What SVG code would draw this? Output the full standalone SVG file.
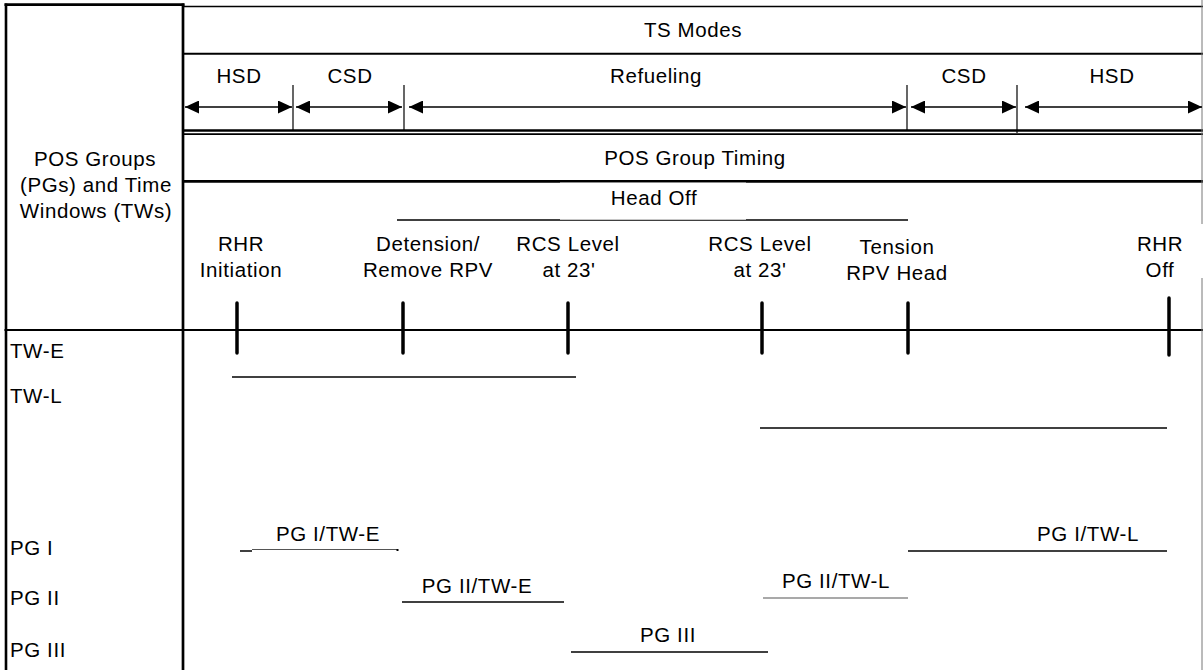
<svg xmlns="http://www.w3.org/2000/svg" width="1203" height="670" viewBox="0 0 1203 670">
<style>
text{font-family:"Liberation Sans",Arial,sans-serif;font-size:20.5px;letter-spacing:0.6px;fill:#000}
.c{text-anchor:middle}
.l{text-anchor:start}
.ln{stroke:#000;fill:none}
.g{stroke:#555;fill:none;stroke-width:1.2}
.tick{stroke:#000;stroke-width:3.5;stroke-linecap:round}
.arr{stroke:#000;stroke-width:1.7;marker-start:url(#ah);marker-end:url(#ah)}
</style>
<defs>
<marker id="ah" markerUnits="userSpaceOnUse" markerWidth="14" markerHeight="13" refX="14" refY="6.5" orient="auto-start-reverse">
<path d="M0,0 L14,6.5 L0,13 z" fill="#000"/>
</marker>
</defs>
<rect width="1203" height="670" fill="#fff"/>
<g id="frame">
<line class="ln" x1="4.5" y1="4.7" x2="184.5" y2="4.7" stroke-width="2.7"/>
<line class="ln" x1="6" y1="3.5" x2="6" y2="670" stroke-width="2.6"/>
<line class="ln" x1="183" y1="3.5" x2="183" y2="670" stroke-width="2.7"/>
<line class="ln" x1="183" y1="6.5" x2="1203" y2="6.5" stroke-width="1.6"/>
<line class="ln" x1="183" y1="53.7" x2="1203" y2="53.7" stroke-width="2"/>
<line class="ln" x1="183" y1="130.5" x2="1203" y2="130.5" stroke-width="2.3"/>
<line class="ln" x1="183" y1="134.2" x2="1203" y2="134.2" stroke-width="1.7"/>
<line class="ln" x1="183" y1="181.3" x2="1203" y2="181.3" stroke-width="2.7"/>
<line class="ln" x1="4.5" y1="330" x2="1203" y2="330" stroke-width="2"/>
<line x1="1202" y1="0" x2="1202" y2="224" stroke="#777" stroke-width="1"/>
<line x1="1202" y1="278" x2="1202" y2="670" stroke="#777" stroke-width="1"/>
</g>
<g id="left-header">
<text class="c" x="95" y="165.5">POS Groups</text>
<text class="c" x="96" y="191.5">(PGs) and Time</text>
<text class="c" x="96" y="217.5">Windows (TWs)</text>
</g>
<g id="ts-modes">
<text class="c" x="693" y="37">TS Modes</text>
</g>
<g id="modes">
<text class="c" x="239" y="83">HSD</text>
<text class="c" x="350" y="83">CSD</text>
<text class="c" x="656" y="83">Refueling</text>
<text class="c" x="964" y="83">CSD</text>
<text class="c" x="1112" y="83">HSD</text>
<line class="ln" x1="293" y1="85" x2="293" y2="131" stroke-width="1.2"/>
<line class="ln" x1="404" y1="85" x2="404" y2="131" stroke-width="1.2"/>
<line class="ln" x1="907" y1="85" x2="907" y2="131" stroke-width="1.2"/>
<line class="ln" x1="1017" y1="85" x2="1017" y2="133" stroke-width="1.2"/>
</g>
<g id="connectors">
<line class="arr" x1="185" y1="107" x2="292" y2="107"/>
<line class="arr" x1="296" y1="107" x2="402" y2="107"/>
<line class="arr" x1="409" y1="107" x2="906" y2="107"/>
<line class="arr" x1="911" y1="107" x2="1016" y2="107"/>
<line class="arr" x1="1025" y1="107" x2="1202" y2="107"/>
</g>
<g id="pos-group-timing">
<text class="c" x="695" y="165">POS Group Timing</text>
</g>
<g id="head-off">
<line class="ln" x1="397" y1="220" x2="908" y2="220" stroke-width="1.5"/>
<rect x="560" y="182.6" width="186" height="37.1" fill="#fff"/>
<text class="c" x="654" y="205">Head Off</text>
</g>
<g id="milestones">
<text class="c" x="241" y="251">RHR</text>
<text class="c" x="241" y="277">Initiation</text>
<text class="c" x="428" y="251">Detension/</text>
<text class="c" x="428" y="277">Remove RPV</text>
<text class="c" x="568" y="251">RCS Level</text>
<text class="c" x="569" y="277">at 23'</text>
<text class="c" x="760" y="251">RCS Level</text>
<text class="c" x="760" y="277">at 23'</text>
<text class="c" x="897" y="254">Tension</text>
<text class="c" x="897" y="280">RPV Head</text>
<text class="c" x="1160" y="251">RHR</text>
<text class="c" x="1160" y="277">Off</text>
<line class="tick" x1="237" y1="303" x2="237" y2="353"/>
<line class="tick" x1="403" y1="303" x2="403" y2="353"/>
<line class="tick" x1="568" y1="303" x2="568" y2="353"/>
<line class="tick" x1="762" y1="303" x2="762" y2="353"/>
<line class="tick" x1="908" y1="303" x2="908" y2="353"/>
<line class="tick" x1="1169" y1="298" x2="1169" y2="355"/>
</g>
<g id="row-labels">
<text class="l" x="10" y="358">TW-E</text>
<text class="l" x="10" y="403">TW-L</text>
<text class="l" x="10" y="555">PG I</text>
<text class="l" x="10" y="605">PG II</text>
<text class="l" x="10" y="657">PG III</text>
</g>
<g id="tw-e">
<line class="ln" x1="232" y1="377" x2="576" y2="377" stroke-width="1.6"/>
</g>
<g id="tw-l">
<line class="ln" x1="760" y1="428" x2="1167" y2="428" stroke-width="1.6"/>
</g>
<g id="pg1-twe">
<text class="c" x="328" y="541">PG I/TW-E</text>
<line class="ln" x1="240" y1="551" x2="252" y2="551" stroke-width="1.5"/>
<line class="g" x1="252" y1="549.5" x2="397" y2="549.5"/>
<rect x="396.5" y="549" width="2" height="2" fill="#000"/>
</g>
<g id="pg1-twl">
<text class="c" x="1088" y="541">PG I/TW-L</text>
<line class="ln" x1="908" y1="551" x2="1167" y2="551" stroke-width="1.6"/>
</g>
<g id="pg2-twe">
<text class="c" x="477" y="593">PG II/TW-E</text>
<line class="ln" x1="402" y1="602" x2="564" y2="602" stroke-width="1.6"/>
</g>
<g id="pg2-twl">
<text class="c" x="836" y="588">PG II/TW-L</text>
<line class="g" x1="763" y1="598" x2="908" y2="598"/>
</g>
<g id="pg3">
<text class="c" x="668" y="642">PG III</text>
<line class="ln" x1="571" y1="652" x2="768" y2="652" stroke-width="1.6"/>
</g>
</svg>
